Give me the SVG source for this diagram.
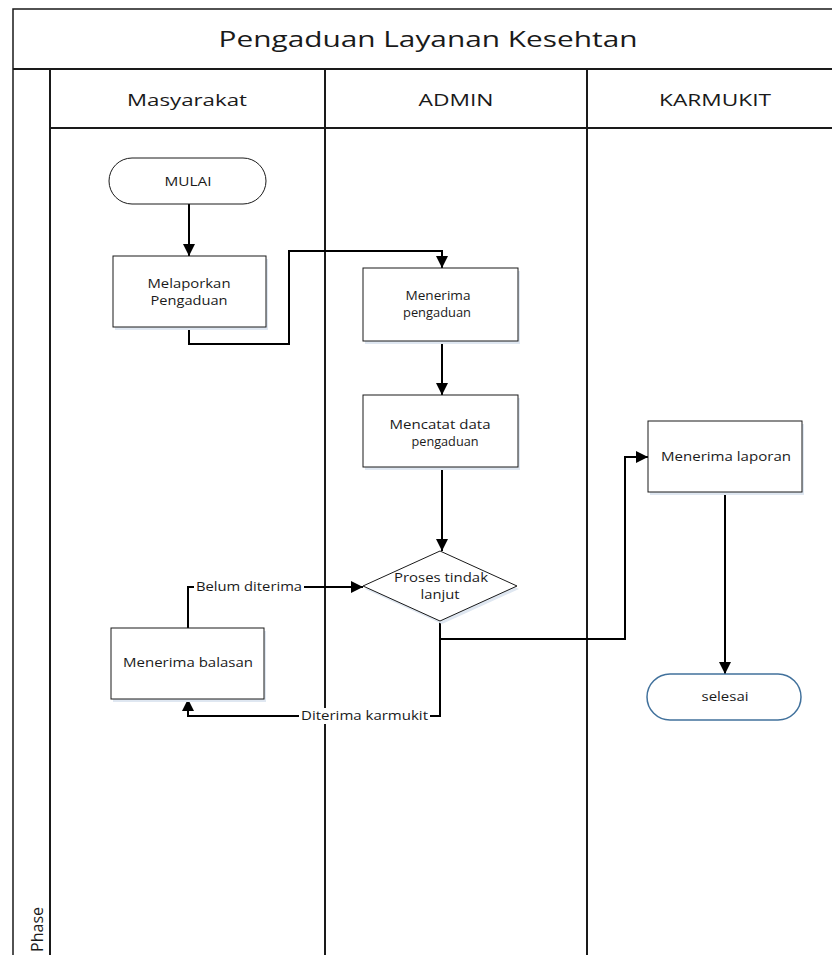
<svg xmlns="http://www.w3.org/2000/svg" width="832" height="955" viewBox="0 0 832 955">
  <style>
    .frame { fill: #ffffff; stroke: #1a1a1a; stroke-width: 1.5; }
    .lane { fill: none; stroke: #1a1a1a; stroke-width: 2; }
    .box { fill: #ffffff; stroke: #1a1a1a; stroke-width: 1; }
    .shadow { fill: #dfe7f1; stroke: none; }
    .term-end { fill: #ffffff; stroke: #41719c; stroke-width: 1.5; }
    .flow { fill: none; stroke: #000000; stroke-width: 2; }
    text { font-family: "Open Sans", "Liberation Sans", sans-serif; fill: #1a1a1a; }
    .title { font-size: 22px; text-anchor: middle; }
    .head { font-size: 17px; text-anchor: middle; }
    .phase { font-size: 16px; text-anchor: end; }
    .lbl { font-size: 12px; text-anchor: middle; }
    .edge-lbl { font-size: 12px; text-anchor: start; }
  </style>
  <defs>
    <marker id="arrow" viewBox="0 0 10 10" refX="10" refY="5" markerWidth="6" markerHeight="6" markerUnits="strokeWidth" orient="auto">
      <path d="M0,0 L10,5 L0,10 Z" fill="#000000"/>
    </marker>
  </defs>

  <!-- pool frame with title band, lane headers and phase column -->
  <g id="pool">
    <rect class="frame" x="13" y="9" width="840" height="960"/>
    <line class="lane" x1="13" y1="69" x2="853" y2="69"/>
    <line class="lane" x1="50" y1="128" x2="853" y2="128"/>
    <line class="lane" x1="50" y1="69" x2="50" y2="955"/>
    <line class="lane" x1="325" y1="69" x2="325" y2="955"/>
    <line class="lane" x1="587" y1="69" x2="587" y2="955"/>
    <text class="title" x="428" y="47" textLength="419" lengthAdjust="spacingAndGlyphs">Pengaduan Layanan Kesehtan</text>
    <text class="head" x="187" y="106" textLength="120" lengthAdjust="spacingAndGlyphs">Masyarakat</text>
    <text class="head" x="456" y="106" textLength="75" lengthAdjust="spacingAndGlyphs">ADMIN</text>
    <text class="head" x="715" y="106" textLength="112" lengthAdjust="spacingAndGlyphs">KARMUKIT</text>
    <text class="phase" transform="translate(43,907) rotate(-90)">Phase</text>
  </g>

  <!-- connectors -->
  <g id="connectors">
    <path class="flow" d="M189,204 L189,256" marker-end="url(#arrow)"/>
    <path class="flow" d="M189,327 L189,344 L289,344 L289,251 L442,251 L442,268" marker-end="url(#arrow)"/>
    <path class="flow" d="M442,341 L442,395" marker-end="url(#arrow)"/>
    <path class="flow" d="M442,467 L442,551" marker-end="url(#arrow)"/>
    <path class="flow" d="M440,621 L440,639 L625,639 L625,457 L648,457" marker-end="url(#arrow)"/>
    <path class="flow" d="M725,492 L725,674" marker-end="url(#arrow)"/>
    <path class="flow" d="M188,628 L188,587 L363,587" marker-end="url(#arrow)"/>
    <path class="flow" d="M440,621 L440,716 L188,716 L188,699" marker-end="url(#arrow)"/>
    <rect x="194" y="579" width="110" height="16" fill="#ffffff"/>
    <text class="edge-lbl" x="196" y="591" textLength="106" lengthAdjust="spacingAndGlyphs">Belum diterima</text>
    <rect x="299" y="708" width="131" height="16" fill="#ffffff"/>
    <text class="edge-lbl" x="301" y="720" textLength="127" lengthAdjust="spacingAndGlyphs">Diterima karmukit</text>
  </g>

  <!-- process nodes -->
  <g id="mulai">
    <rect class="box" x="109" y="158" width="157" height="46" rx="23"/>
    <text class="lbl" x="188" y="186" textLength="47" lengthAdjust="spacingAndGlyphs">MULAI</text>
  </g>
  <g id="melaporkan">
    <rect class="shadow" x="115" y="259" width="153" height="71"/>
    <rect class="box" x="113" y="256" width="153" height="71"/>
    <text class="lbl" x="189" y="288" textLength="83" lengthAdjust="spacingAndGlyphs">Melaporkan</text>
    <text class="lbl" x="189" y="305" textLength="77" lengthAdjust="spacingAndGlyphs">Pengaduan</text>
  </g>
  <g id="menerima-pengaduan">
    <rect class="shadow" x="365" y="271" width="155" height="73"/>
    <rect class="box" x="363" y="268" width="155" height="73"/>
    <text class="lbl" x="438" y="300" textLength="65" lengthAdjust="spacingAndGlyphs">Menerima</text>
    <text class="lbl" x="437" y="317" textLength="68" lengthAdjust="spacingAndGlyphs">pengaduan</text>
  </g>
  <g id="mencatat">
    <rect class="shadow" x="365" y="398" width="155" height="72"/>
    <rect class="box" x="363" y="395" width="155" height="72"/>
    <text class="lbl" x="440" y="429" textLength="101" lengthAdjust="spacingAndGlyphs">Mencatat data</text>
    <text class="lbl" x="445" y="446" textLength="67" lengthAdjust="spacingAndGlyphs">pengaduan</text>
  </g>
  <g id="proses-tindak-lanjut">
    <polygon class="shadow" points="442,554 519,589 442,624 365,589"/>
    <polygon class="box" points="440,551 517,586 440,621 363,586"/>
    <text class="lbl" x="441" y="582" textLength="94" lengthAdjust="spacingAndGlyphs">Proses tindak</text>
    <text class="lbl" x="440" y="599" textLength="39" lengthAdjust="spacingAndGlyphs">lanjut</text>
  </g>
  <g id="menerima-laporan">
    <rect class="shadow" x="650" y="424" width="154" height="71"/>
    <rect class="box" x="648" y="421" width="154" height="71"/>
    <text class="lbl" x="726" y="461" textLength="130" lengthAdjust="spacingAndGlyphs">Menerima laporan</text>
  </g>
  <g id="menerima-balasan">
    <rect class="shadow" x="113" y="631" width="153" height="71"/>
    <rect class="box" x="111" y="628" width="153" height="71"/>
    <text class="lbl" x="188" y="667" textLength="130" lengthAdjust="spacingAndGlyphs">Menerima balasan</text>
  </g>
  <g id="selesai">
    <rect class="term-end" x="647" y="674" width="154" height="46" rx="23"/>
    <text class="lbl" x="725" y="701" textLength="47" lengthAdjust="spacingAndGlyphs">selesai</text>
  </g>
</svg>
